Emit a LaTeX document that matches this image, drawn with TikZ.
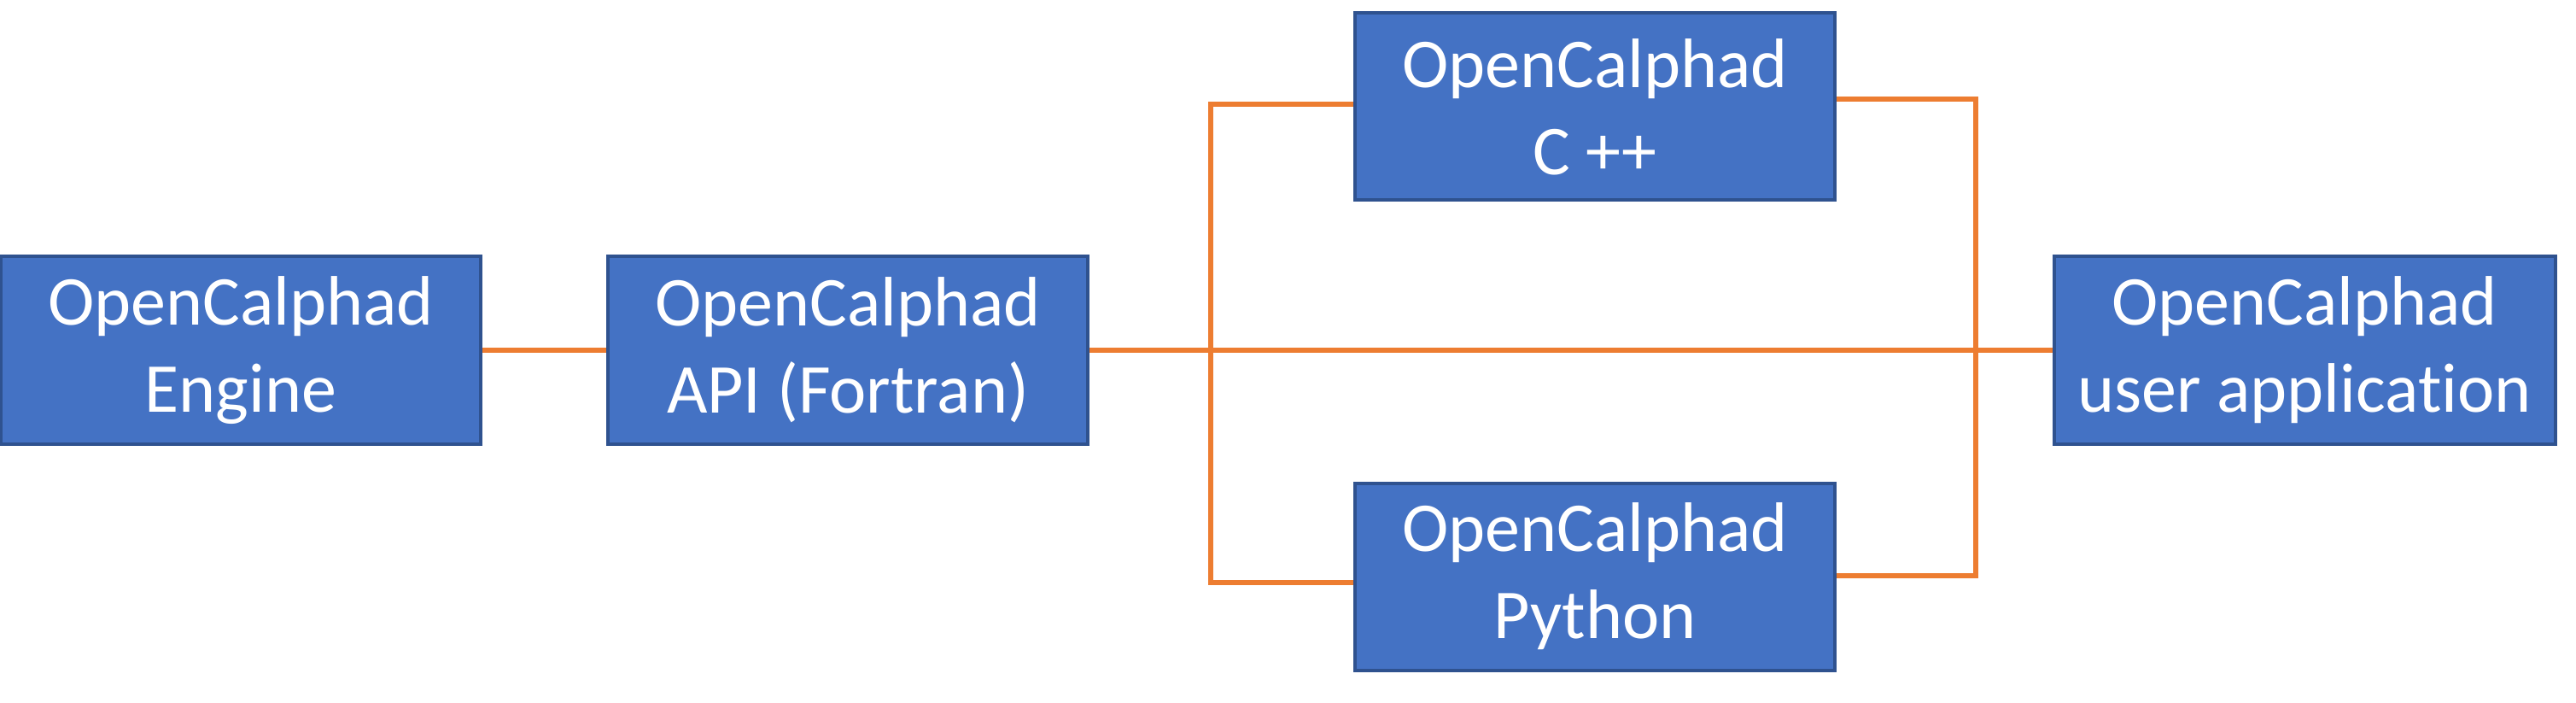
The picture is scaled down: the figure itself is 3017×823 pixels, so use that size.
\documentclass[tikz,border=0pt]{standalone}
\usepackage{fontspec}
\setmainfont[Ligatures={NoCommon}]{Carlito}
\definecolor{boxfill}{HTML}{4472C4}
\definecolor{boxline}{HTML}{2F528F}
\definecolor{wire}{HTML}{ED7D31}
\begin{document}
\begin{tikzpicture}[x=0.5pt,y=-0.5pt,
  ocbox/.style={draw=boxline, line width=2pt, fill=boxfill, text=white,
    minimum width=281pt, minimum height=109.5pt, inner sep=0pt, align=center,
    font=\fontsize{41}{51}\selectfont},
  wireline/.style={draw=wire, line width=2.8pt}]
\useasboundingbox (0,0) rectangle (3017,823);
\node[ocbox] (eng) at (282,410) {OpenCalphad\\Engine};
\node[ocbox] (api) at (993,410) {OpenCalphad\\API (Fortran)};
\node[ocbox] (cpp) at (1868,125) {OpenCalphad\\C ++};
\node[ocbox] (py) at (1868,675) {OpenCalphad\\Python};
\node[ocbox, minimum width=293.5pt] (usr) at (2699,410) {OpenCalphad\\user application};
\coordinate (l1) at (1418,122);
\coordinate (l2) at (1418,682);
\coordinate (r1) at (2314,116);
\coordinate (r2) at (2314,674);
\draw[wireline] (eng.east) -- (api.west);
\draw[wireline] (api.east) -- (usr.west);
\draw[wireline] (cpp.west |- l1) -- (l1) -- (l2) -- (py.west |- l2);
\draw[wireline] (cpp.east |- r1) -- (r1) -- (r2) -- (py.east |- r2);
\end{tikzpicture}
\end{document}
